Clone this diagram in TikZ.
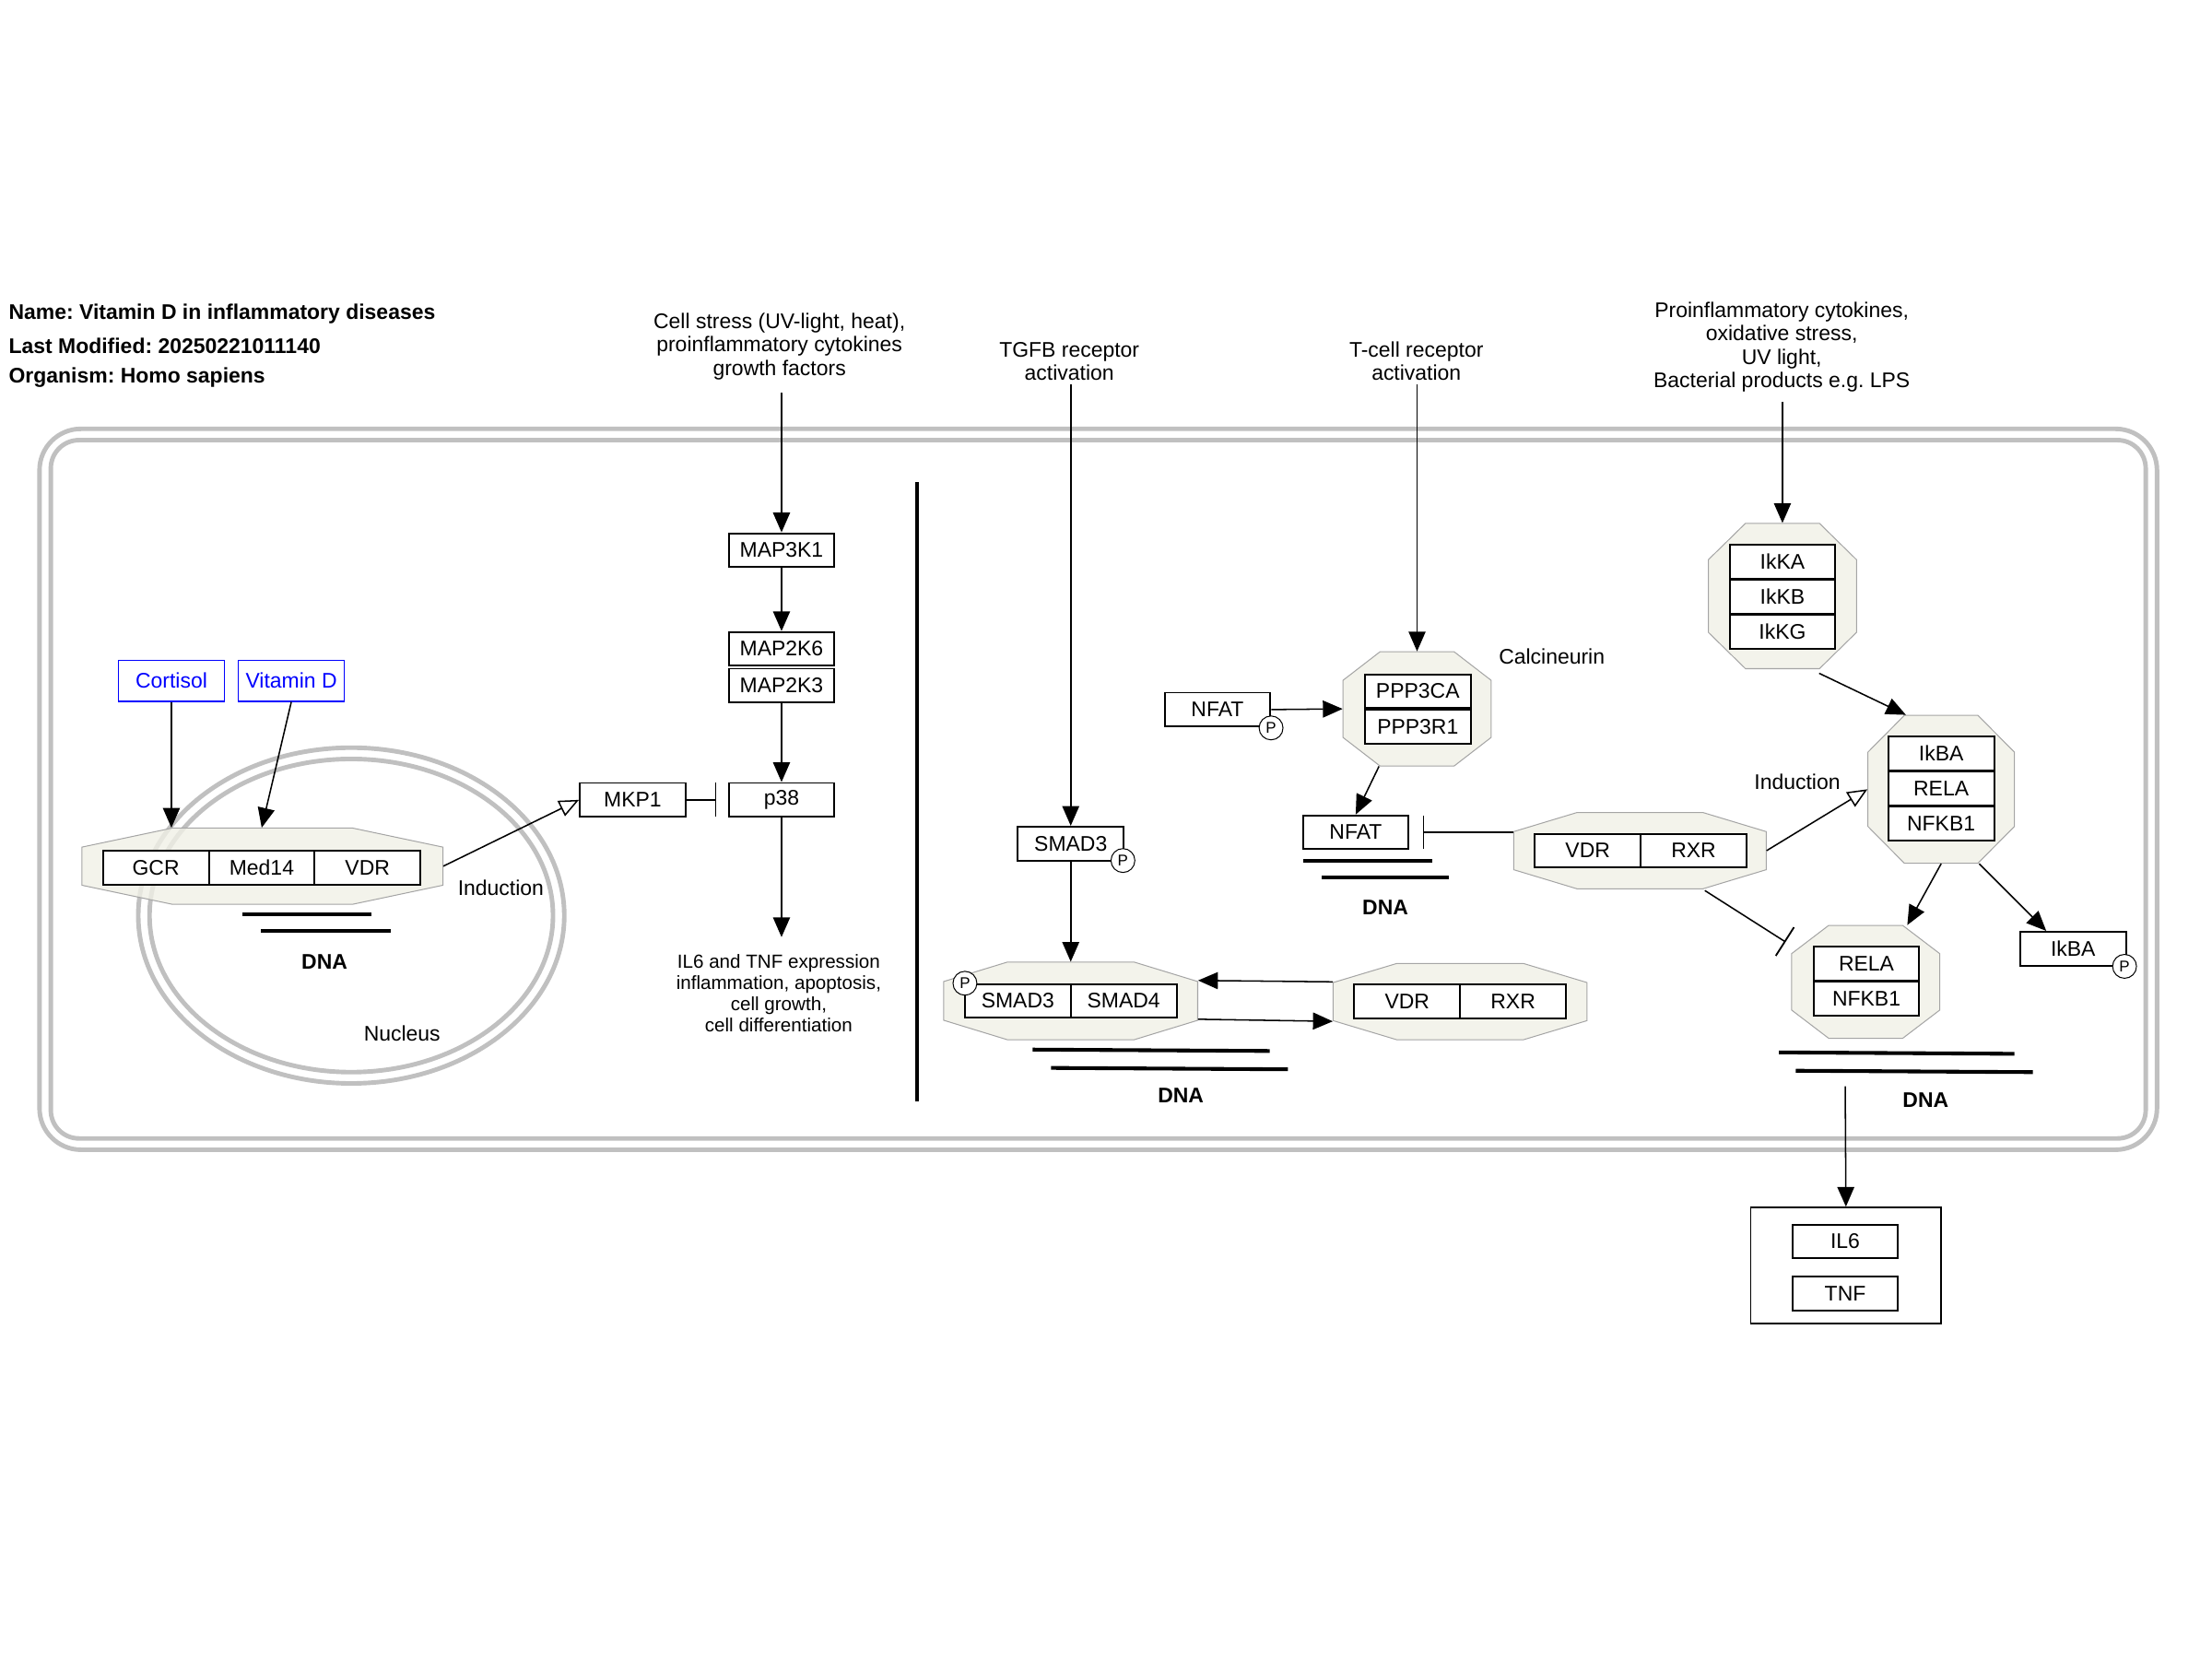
\documentclass[tikz,border=0pt]{standalone}
\usepackage{fontspec}
\setmainfont{Liberation Sans}
\usetikzlibrary{arrows.meta,calc}
\definecolor{cpxfill}{RGB}{240,240,230}
\definecolor{cpxdraw}{RGB}{165,165,165}
\definecolor{memgray}{RGB}{192,192,192}
\definecolor{metblue}{RGB}{0,0,255}
\frenchspacing
\newcommand\fs{\fontsize{11.25}{12.4}\selectfont}
\newcommand\fss{\fontsize{10.1}{11.25}\selectfont}
\newcommand\mycpx[5]{%
  \pgfmathsetmacro\cxa{#2+0.25*(#4-#2)}%
  \pgfmathsetmacro\cxb{#4-0.25*(#4-#2)}%
  \pgfmathsetmacro\cya{#3+0.25*(#5-#3)}%
  \pgfmathsetmacro\cyb{#5-0.25*(#5-#3)}%
  \pgfmathsetmacro\cw{0.75*(#4-#2)}%
  \pgfmathsetmacro\ch{0.75*(#5-#3)}%
  \pgfmathsetmacro\cmx{(#2+#4)/2}%
  \pgfmathsetmacro\cmy{(#3+#5)/2}%
  \filldraw[cpxs] (\cxa,#3) -- (\cxb,#3) -- (#4,\cya) -- (#4,\cyb) -- (\cxb,#5) -- (\cxa,#5) -- (#2,\cyb) -- (#2,\cya) -- cycle;
  \node[inner sep=0pt, minimum width=\cw pt, minimum height=\ch pt] (#1) at (\cmx,\cmy) {};
}
\begin{document}
\begin{tikzpicture}[x=0.75pt,y=-0.75pt,
  gp/.style={draw, line width=0.95pt, fill=white, minimum width=56.25pt, minimum height=18pt, inner sep=0pt, font=\fs},
  met/.style={gp, draw=metblue, text=metblue, line width=0.8pt, minimum height=21.75pt},
  lbl/.style={font=\fs, align=center, inner sep=0pt},
  hdr/.style={font=\fs\bfseries, anchor=west, inner sep=0pt},
  dnal/.style={font=\fs\bfseries, inner sep=0pt},
  dnaline/.style={line width=2pt},
  arr/.style={line width=0.75pt, -{Triangle[length=10.5pt, width=9pt]}},
  ind/.style={line width=0.75pt, -{Triangle[open, length=10.5pt, width=9pt, fill=white]}},
  inh/.style={line width=0.75pt, -{Bar[width=18pt, line width=0.9pt]}},
  pcirc/.style={circle, draw, fill=white, line width=0.5pt, minimum size=12.7pt, inner sep=0pt, font=\fontsize{8.3}{8.3}\selectfont},
  cpxs/.style={fill=cpxfill, fill opacity=0.8, draw=cpxdraw, draw opacity=1, line width=0.5pt},
  mem/.style={draw=memgray, line width=2.4pt},
  grp/.style={draw, line width=0.95pt, inner sep=0pt, minimum width=101.25pt, minimum height=61.5pt}
]
\useasboundingbox (0,0) rectangle (1568,1176);

% header
\node[hdr] (h1) at (6,222.5) {Name: Vitamin D in inflammatory diseases};
\node[hdr] (h2) at (6,245.5) {Last Modified: 20250221011140};
\node[hdr] (h3) at (6,267.5) {Organism: Homo sapiens};

% cell membrane
\draw[mem, rounded corners=22pt] (28,304) rectangle (1529,815);
\draw[mem, rounded corners=15pt] (36,312) rectangle (1521,807);

% nucleus
\draw[mem] (249,649) ellipse [x radius=151, y radius=119];
\draw[mem] (249,649) ellipse [x radius=143, y radius=111];

% separator
\draw[line width=2.3pt] (650,342) -- (650,781);

% complexes
\mycpx{gcrc}{58}{587}{314}{641}
\mycpx{smadc}{669}{682}{849}{737}
\mycpx{vrc1}{945}{683}{1125}{737}
\mycpx{calc}{952}{462}{1057}{543}
\mycpx{vrc2}{1073}{576}{1252}{630}
\mycpx{ikk}{1211}{371}{1316}{474}
\mycpx{ikbc}{1324}{507}{1428}{612}
\mycpx{relnc}{1270}{656}{1375}{736}

% data nodes
\node[met] (cort) at (121.5,482.5) {Cortisol};
\node[met] (vitd) at (206.5,482.5) {Vitamin D};
\node[gp] (gcr) at (110.5,615) {GCR};
\node[gp] (med14) at (185.5,615) {Med14};
\node[gp] (vdr0) at (260.5,615) {VDR};

\node[gp] (mkp1) at (448.5,567) {MKP1};
\node[gp] (p38) at (554,567) {p38};
\node[gp] (map3k1) at (554,390) {MAP3K1};
\node[gp] (map2k6) at (554,460) {MAP2K6};
\node[gp] (map2k3) at (554,486) {MAP2K3};

\node[gp] (smad3p) at (759,598) {SMAD3};
\node[pcirc] (p1) at (796,610) {P};
\node[gp] (smad3) at (721.5,709.5) {SMAD3};
\node[gp] (smad4) at (796.5,709.5) {SMAD4};
\node[pcirc] (p2) at (684,697) {P};
\node[gp] (vdr1) at (997.5,710) {VDR};
\node[gp] (rxr1) at (1072.5,710) {RXR};

\node[gp] (ppp3ca) at (1005,490) {PPP3CA};
\node[gp] (ppp3r1) at (1005,515) {PPP3R1};
\node[gp] (nfatp) at (863,503) {NFAT};
\node[pcirc] (p3) at (901,516) {P};
\node[gp] (nfat) at (961,590) {NFAT};
\node[gp] (vdr2) at (1125.5,603) {VDR};
\node[gp] (rxr2) at (1200.5,603) {RXR};

\node[gp] (ikka) at (1263.5,398) {IkKA};
\node[gp] (ikkb) at (1263.5,423) {IkKB};
\node[gp] (ikkg) at (1263.5,448) {IkKG};
\node[gp] (ikba) at (1376,534) {IkBA};
\node[gp] (rela) at (1376,559) {RELA};
\node[gp] (nfkb1) at (1376,584) {NFKB1};
\node[gp] (rela2) at (1323,683) {RELA};
\node[gp] (nfkb12) at (1323,708) {NFKB1};
\node[gp] (ikbap) at (1469.5,672.5) {IkBA};
\node[pcirc] (p4) at (1506,685) {P};

\node[grp] (il6grp) at (1308.5,897) {};
\node[gp] (il6) at (1308,880) {IL6};
\node[gp] (tnf) at (1308,917) {TNF};

% DNA
\draw[dnaline] (172,648) -- (263,648);
\draw[dnaline] (185,660) -- (277,660);
\draw[dnaline] (732,744) -- (900,745);
\draw[dnaline] (745,757) -- (913,758);
\draw[dnaline] (924,610) -- (1015,610);
\draw[dnaline] (937,622) -- (1027,622);
\draw[dnaline] (1261,746) -- (1428,747);
\draw[dnaline] (1273,759) -- (1441,760);
\node[dnal] (dna1) at (230,681.5) {DNA};
\node[dnal] (dna2) at (837,776.5) {DNA};
\node[dnal] (dna3) at (982,643.5) {DNA};
\node[dnal] (dna4) at (1365,779.5) {DNA};

% labels
\node[lbl] (cs) at (552.5,245.5) {Cell stress (UV-light, heat),\\proinflammatory cytokines\\growth factors};
\node[lbl, font=\fss] (ilt) at (552,704) {IL6 and TNF expression\\inflammation, apoptosis,\\cell growth,\\cell differentiation};
\node[lbl] (tgfb) at (758,256) {TGFB receptor\\activation};
\node[lbl] (tcr) at (1004,256) {T-cell receptor\\activation};
\node[lbl] (pcy) at (1263,246) {Proinflammatory cytokines,\\oxidative stress,\\UV light,\\Bacterial products e.g. LPS};
\node[lbl] (calcl) at (1100,465.5) {Calcineurin};
\node[lbl] (ind1) at (355,629.5) {Induction};
\node[lbl] (ind2) at (1274,554.5) {Induction};
\node[lbl] (nucl) at (285,732.5) {Nucleus};
\coordinate (dnar) at (1308,770);

% connectors
\draw[arr] (cort.south) -- (cort.south |- gcrc.north);
\draw[arr] (vitd.south) -- (med14.center |- gcrc.north);
\draw[ind] (gcrc.east) -- (mkp1.west);
\draw[inh, shorten >=6pt] (mkp1.east) -- (p38.west);

\draw[arr, shorten <=7pt] (map3k1.north |- cs.south) -- (map3k1.north);
\draw[arr] (map3k1.south) -- (map2k6.north);
\draw[arr] (map2k3.south) -- (p38.north);
\draw[arr, shorten >=9pt] (p38.south) -- (p38.south |- ilt.north);

\draw[arr, shorten <=2pt] (smad3p.north |- tgfb.south) -- (smad3p.north);
\draw[arr] (smad3p.south) -- (smadc.north);
\draw[arr] ($(vrc1.west)+(0,-14)$) -- ($(smadc.east)+(0,-14.5)$);
\draw[arr] ($(smadc.east)+(0,13)$) -- ($(vrc1.west)+(0,14)$);

\draw[arr, shorten <=2pt] (calc.north |- tcr.south) -- (calc.north);
\draw[arr] (nfatp.east) -- (calc.west);
\draw[arr] ($(calc.south)+(-27,0)$) -- (nfat.north);
\draw[inh, shorten >=7pt] ($(vrc2.west)+(0,-13)$) -- (nfat.east);

\draw[arr, shorten <=5pt] (ikk.north |- pcy.south) -- (ikk.north);
\draw[arr] ($(ikk.south)+(26,3)$) -- ($(ikbc.north)+(-25,0)$);
\draw[ind] (vrc2.east) -- (ikbc.west);
\draw[inh] ($(vrc2.south)+(46,1)$) -- ($(relnc.north west)+(-4,12)$);
\draw[arr] (ikbc.south) -- ($(relnc.north)+(29.5,0)$);
\draw[arr] ($(ikbc.south)+(27,0)$) -- ($(ikbap.north)+(-19,0)$);
\draw[arr] (dnar) -- (il6grp.north);
\end{tikzpicture}
\end{document}
